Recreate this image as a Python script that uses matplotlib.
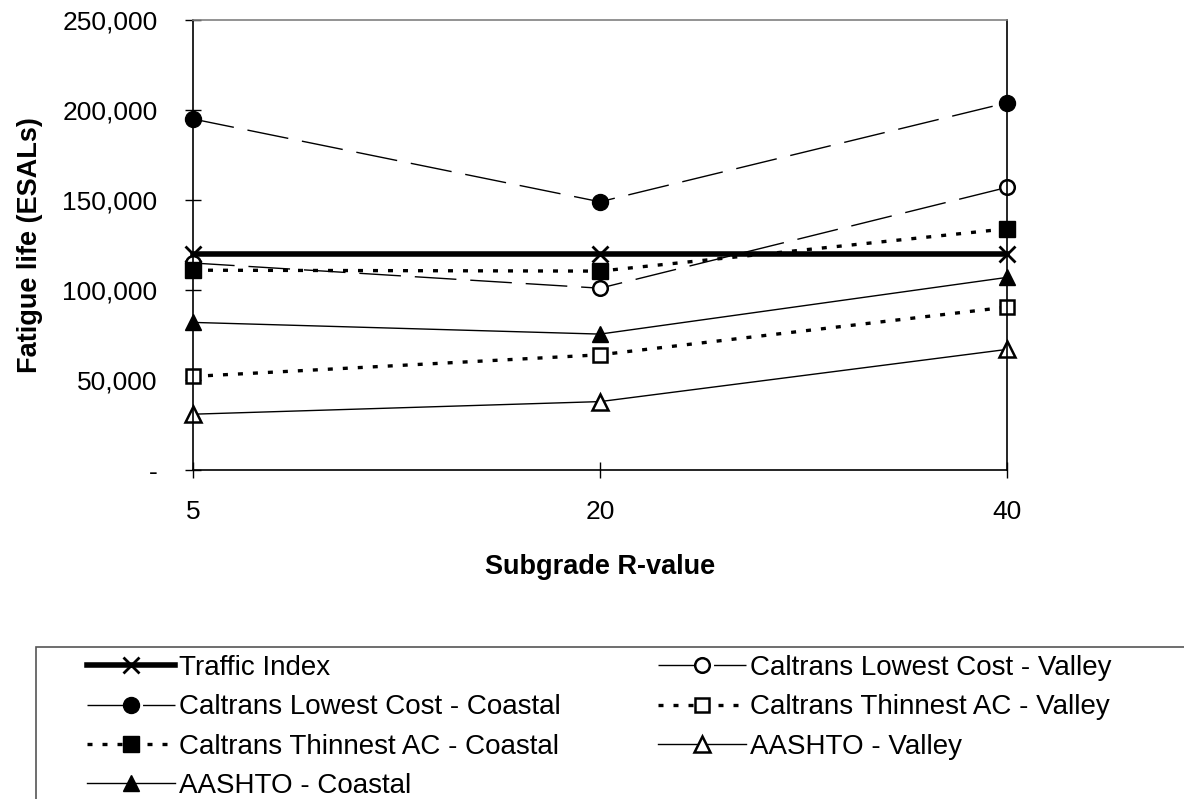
import matplotlib
matplotlib.use("Agg")
import matplotlib.pyplot as plt
from matplotlib.ticker import FuncFormatter
from matplotlib.patches import Rectangle

plt.rcParams['font.family'] = ['Liberation Sans', 'DejaVu Sans']

categories = ["5", "20", "40"]
traffic_index = [120000, 120000, 120000]
lc_coastal = [195000, 149000, 204000]
lc_valley = [115000, 101000, 157000]
tac_coastal = [111000, 110500, 134000]
tac_valley = [52000, 64000, 90500]
aashto_coastal = [82000, 75500, 107000]
aashto_valley = [31000, 38000, 67000]

W, H = 1184, 799
fig = plt.figure(figsize=(W / 100, H / 100), dpi=100)
ax = fig.add_axes([193 / W, (H - 470) / H, (1007 - 193) / W, (470 - 20) / H])

x = list(range(len(categories)))
long_dash = (0, (30, 10))
dot_dash = (0, (1.5, 3.0))

series = [
    ("Traffic Index", traffic_index, dict(color='black', lw=4.0, ls='-', marker='x', ms=11, mew=2.0, mfc='black', mec='black')),
    ("Caltrans Lowest Cost - Coastal", lc_coastal, dict(color='black', lw=1.0, ls=long_dash, marker='o', ms=11.5, mfc='black', mec='black')),
    ("Caltrans Lowest Cost - Valley", lc_valley, dict(color='black', lw=1.0, ls=long_dash, marker='o', ms=10.5, mew=1.8, mfc='white', mec='black')),
    ("Caltrans Thinnest AC - Coastal", tac_coastal, dict(color='black', lw=2.4, ls=dot_dash, marker='s', ms=11, mfc='black', mec='black')),
    ("Caltrans Thinnest AC - Valley", tac_valley, dict(color='black', lw=2.4, ls=dot_dash, marker='s', ms=10.5, mew=1.8, mfc='white', mec='black')),
    ("AASHTO - Coastal", aashto_coastal, dict(color='black', lw=1.0, ls='-', marker='^', ms=12, mfc='black', mec='black')),
    ("AASHTO - Valley", aashto_valley, dict(color='black', lw=1.0, ls='-', marker='^', ms=11, mew=1.8, mfc='white', mec='black')),
]

handles = {}
for name, vals, st in series:
    h, = ax.plot(x, vals, clip_on=False, label=name, **st)
    handles[name] = h

FS = 19
ax.set_xlim(0, 2)
ax.set_ylim(0, 250000)
ax.set_yticks([0, 50000, 100000, 150000, 200000, 250000])
ax.yaxis.set_major_formatter(FuncFormatter(lambda v, p: "-" if v == 0 else f"{int(v):,}"))
ax.set_xticks(x)
ax.set_xticklabels(categories)
ax.tick_params(axis='y', direction='inout', length=11, width=1, labelsize=FS, pad=20)
ax.tick_params(axis='x', direction='inout', length=11, width=1, labelsize=FS, pad=16)

for s in ['left', 'bottom', 'right']:
    ax.spines[s].set_color('black')
    ax.spines[s].set_linewidth(1.2)
ax.spines['top'].set_color('#808080')
ax.spines['top'].set_linewidth(1.2)

ax.set_xlabel("Subgrade R-value", fontsize=19.5, fontweight='bold', labelpad=22)
ax.set_ylabel("Fatigue life (ESALs)", fontsize=19.5, fontweight='bold', labelpad=14)

# legend frame (extends beyond the figure edge)
fig.patches.append(Rectangle((36 / W, -0.05), 1.1, (H - 647) / H + 0.05,
                             transform=fig.transFigure, fill=False,
                             edgecolor='#555555', lw=1.2))

order = ["Traffic Index", "Caltrans Lowest Cost - Coastal", "Caltrans Thinnest AC - Coastal",
         "AASHTO - Coastal", "Caltrans Lowest Cost - Valley", "Caltrans Thinnest AC - Valley",
         "AASHTO - Valley"]
leg = fig.legend([handles[n] for n in order], order, loc='upper left',
                 bbox_to_anchor=(87 / W, (H - 655) / H), ncol=2, frameon=False,
                 fontsize=20, handlelength=3.17, handletextpad=0.15,
                 columnspacing=3.5, labelspacing=0.48, borderaxespad=0,
                 borderpad=0)

fig.savefig("out.png", dpi=100)
